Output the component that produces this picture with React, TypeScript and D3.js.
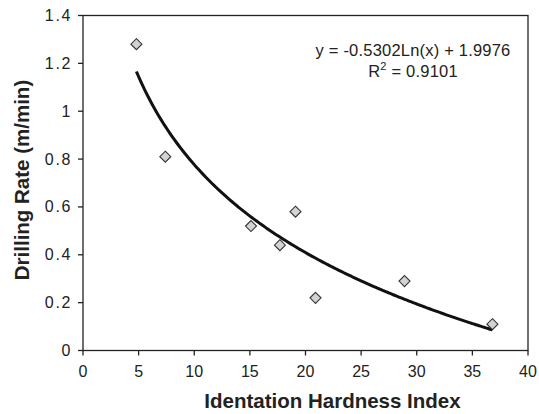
import React from 'react';
import * as d3 from 'd3';

// measured points (Identation Hardness Index, Drilling Rate m/min)
const hardness = [4.8, 7.4, 15.1, 17.7, 19.1, 20.9, 28.9, 36.8];
const drillRate = [1.28, 0.81, 0.52, 0.44, 0.58, 0.22, 0.29, 0.11];

// log trendline as printed on the chart
const trendSlope = -0.5302;
const trendIntercept = 1.9976;
const rSquared = '0.9101';

const xTicks = [0, 5, 10, 15, 20, 25, 30, 35, 40];
const yTicks = [0, 0.2, 0.4, 0.6, 0.8, 1, 1.2, 1.4];

const width = 539;
const height = 414;
const margin = { top: 15.5, right: 11, bottom: 63.5, left: 83 };

const App = () => {
  const x = d3.scaleLinear().domain([0, 40]).range([margin.left, width - margin.right]);
  const y = d3.scaleLinear().domain([0, 1.4]).range([height - margin.bottom, margin.top]);

  const xMin = d3.min(hardness) as number;
  const xMax = d3.max(hardness) as number;
  const trendX = d3.range(xMin, xMax + 0.01, 0.2);
  const line = d3
    .line<number>()
    .x((d) => x(d))
    .y((d) => y(trendSlope * Math.log(d) + trendIntercept))
    .curve(d3.curveBasis);

  const font = 'Liberation Sans, Arial, Helvetica, sans-serif';
  const diamond = (cx: number, cy: number) =>
    `M${cx},${cy - 5.5}L${cx + 5.5},${cy}L${cx},${cy + 5.5}L${cx - 5.5},${cy}Z`;

  const x0 = x(0), x1 = x(40), y0 = y(0), y1 = y(1.4);

  return (
    <svg width={width} height={height} style={{ position: 'absolute', left: 0, top: 0 }} fontFamily={font}>
      <rect x={0} y={0} width={width} height={height} fill="#fff" />
      {/* frame */}
      <rect x={x0} y={y1} width={x1 - x0} height={y0 - y1} fill="none" stroke="#222" strokeWidth={1.3} />

      {yTicks.map((t) => (
        <g key={'y' + t}>
          <line x1={x0 - 5} x2={x0} y1={y(t)} y2={y(t)} stroke="#222" strokeWidth={1.3} />
          <text x={x0 - 10.8} y={y(t) + 5.5} textAnchor="end" fontSize={16} letterSpacing={1.7} fill="#222">
            {t}
          </text>
        </g>
      ))}
      {xTicks.map((t) => (
        <g key={'x' + t}>
          <line x1={x(t)} x2={x(t)} y1={y0} y2={y0 + 5} stroke="#222" strokeWidth={1.3} />
          <text x={x(t)} y={y0 + 26} textAnchor="middle" fontSize={16} fill="#222">
            {t}
          </text>
        </g>
      ))}

      <path d={line(trendX) || ''} fill="none" stroke="#111" strokeWidth={3} />

      {hardness.map((h, i) => (
        <path key={i} d={diamond(x(h), y(drillRate[i]))} fill="#d3d3d3" stroke="#333" strokeWidth={1.1} />
      ))}

      <text x={413} y={56} textAnchor="middle" fontSize={16.5} letterSpacing={0.2} fill="#222">
        {`y = ${trendSlope}Ln(x) + ${trendIntercept}`}
      </text>
      <text x={413} y={77} textAnchor="middle" fontSize={16.5} letterSpacing={0.2} fill="#222">
        R<tspan fontSize={11} dy={-7}>2</tspan>
        <tspan dy={7}>{` = ${rSquared}`}</tspan>
      </text>

      <text x={(x0 + x1) / 2 + 27} y={408} textAnchor="middle" fontSize={20.5} fontWeight="bold" fill="#222">
        Identation Hardness Index
      </text>
      <text
        transform={`translate(29,180) rotate(-90)`}
        textAnchor="middle"
        fontSize={20.5}
        fontWeight="bold"
        fill="#222"
      >
        Drilling Rate (m/min)
      </text>
    </svg>
  );
};

export default App;
